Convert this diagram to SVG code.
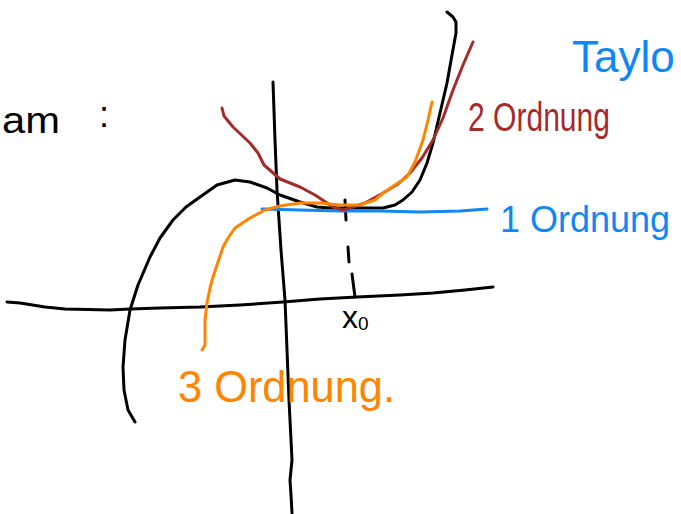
<svg xmlns="http://www.w3.org/2000/svg" width="681" height="514" viewBox="0 0 681 514">
<style>
.s{fill:none;stroke-width:3;stroke-linecap:round;stroke-linejoin:round}
.k{stroke:#000}
.r{stroke:#a52a2a}
.o{stroke:#ff8500}
.b{stroke:#0f87f5}
.t{font-family:"Liberation Sans","DejaVu Sans",sans-serif}
</style>
<rect width="681" height="514" fill="#fff"/>
<g id="axes">
<polyline class="s k" points="7,302 20,303 45,307 65,309 110,310 130,309 160,308 200,307 240,305 283,302 320,299 357,297 400,295 433,293 465,290 493,287"/>
<polyline class="s k" points="273,82 275,140 277,190 281,250 285,300 287,350 289,400 291,440 292,460 290,480 291,495 292,513"/>
</g>
<g id="x0-marker">
<line class="s k" x1="345" y1="200" x2="346" y2="220"/>
<line class="s k" x1="348" y1="247" x2="349" y2="262"/>
<line class="s k" x1="352" y1="274" x2="355" y2="297"/>
</g>
<g id="function">
<polyline class="s k" points="135,422 128,410 124,390 123,367 125,340 130,310 138,285 150,257 160,238 173,220 186,207 200,197 217,185 235,180 250,182 267,188 280,195 300,202 317,207 330,208 340,208 360,208 383,208 395,205 403,200 412,192 420,180 427,163 433,143 440,113 447,83 452,55 456,33 456,22 453,17 447,12"/>
</g>
<g id="order1">
<polyline class="s b" points="262,209 300,210 340,211 380,211 420,212 460,211 487,209"/>
</g>
<g id="order2">
<polyline class="s r" points="222,108 224,116 233,127 250,143 258,153 264,165 272,172 280,179 300,187 315,195 333,207 343,210 353,207 365,203 383,193 398,184 410,173 422,158 433,140 443,118 453,90 463,65 473,42"/>
</g>
<g id="order3">
<polyline class="s o" points="202,350 205,345 205,320 207,303 210,288 213,277 218,262 223,247 228,238 235,228 250,218 265,210 280,206 300,203 320,203 340,205 360,205 375,200 383,193 395,185 407,177 415,162 423,140 428,120 432,102"/>
</g>
<g id="labels">
<text class="t" x="2" y="133" font-size="36" textLength="58" lengthAdjust="spacingAndGlyphs">am</text>
<text class="t" x="99" y="127" font-size="36">:</text>
<text class="t" x="468" y="131" font-size="40" fill="#a52a2a" textLength="142" lengthAdjust="spacingAndGlyphs">2 Ordnung</text>
<text class="t" x="500" y="232" font-size="36" fill="#0f87f5">1 Ordnung</text>
<text class="t" x="342" y="328" font-size="32">x<tspan font-size="19" dy="2">0</tspan></text>
<text class="t" x="178" y="402" font-size="44" fill="#ff8500" textLength="217" lengthAdjust="spacingAndGlyphs">3 Ordnung.</text>
<text class="t" x="572" y="72" font-size="44" fill="#0f87f5">Taylo</text>
</g>
</svg>
